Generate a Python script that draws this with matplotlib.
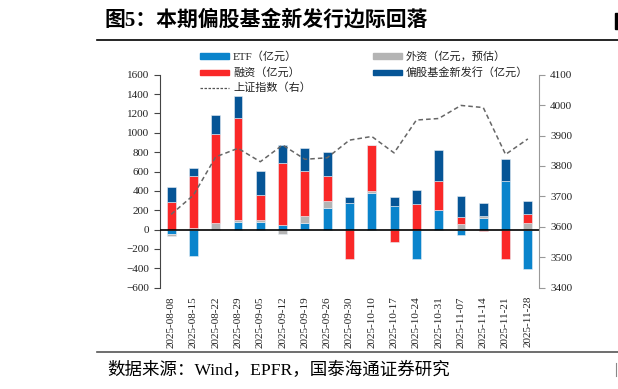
import matplotlib
matplotlib.use("Agg")
import matplotlib.pyplot as plt
import numpy as np
from matplotlib.lines import Line2D

dates = ["2025-08-08", "2025-08-15", "2025-08-22", "2025-08-29", "2025-09-05",
         "2025-09-12", "2025-09-19", "2025-09-26", "2025-09-30", "2025-10-10",
         "2025-10-17", "2025-10-24", "2025-10-31", "2025-11-07", "2025-11-14",
         "2025-11-21", "2025-11-28"]
etf = [-48, -275, 0, 83, 76, 48, 72, 220, 275, 379, 248, -306, 200, -55, 120, 506, -406]
foreign = [-17, 20, 70, 20, 27, -48, 69, 73, 0, 24, 0, 0, 0, 59, 18, 0, 65]
margin = [289, 531, 918, 1054, 255, 637, 465, 265, -303, 468, -127, 268, 303, 68, -10, -300, 100]
new_fund = [148, 89, 193, 220, 244, 186, 237, 247, 59, 7, 93, 138, 316, 217, 134, 220, 128]
sh_index = [3641, 3704, 3830, 3858, 3814, 3869, 3822, 3827, 3885, 3897, 3843,
            3951, 3956, 3999, 3992, 3838, 3889]

labels = ["ETF（亿元）", "外资（亿元，预估）", "融资（亿元）", "偏股基金新发行（亿元）", "上证指数（右）"]
colors = ["#0A84CC", "#B4B4B4", "#FA2828", "#065596"]

plt.rcParams["font.family"] = ["Liberation Serif", "Noto Sans CJK SC", "DejaVu Sans"]
plt.rcParams["axes.unicode_minus"] = True
serifcjk = ["Liberation Serif", "Noto Sans CJK SC", "DejaVu Sans"]

fig = plt.figure(figsize=(6.18, 3.89), dpi=100)
ax = fig.add_axes([160 / 618, 1 - 287.7 / 389, (539 - 160) / 618, (287.7 - 74.7) / 389])
ax2 = ax.twinx()

x = np.arange(len(dates))
series = [etf, foreign, margin, new_fund]
pos_base = np.zeros(len(dates))
neg_base = np.zeros(len(dates))
w = 0.4
for vals, c in zip(series, colors):
    v = np.array(vals, dtype=float)
    bottoms = np.where(v >= 0, pos_base, neg_base)
    ax.bar(x, v, w, bottom=bottoms, color=c, edgecolor="#E8EEF4", linewidth=0.4, zorder=2)
    pos_base = pos_base + np.where(v >= 0, v, 0)
    neg_base = neg_base + np.where(v < 0, v, 0)

ax.axhline(0, color="black", linewidth=1.2, zorder=3)
ax2.plot(x, sh_index, linestyle=(0, (3, 2)), color="#666666", linewidth=1.1, zorder=4)

ax.set_xlim(-0.5, 16.5)
ax.set_ylim(-600, 1600)
ax.set_yticks(np.arange(-600, 1601, 200))
ax2.set_ylim(3400, 4100)
ax2.set_yticks(np.arange(3400, 4101, 100))

for a in (ax, ax2):
    for s in ("top", "bottom"):
        a.spines[s].set_visible(False)
ax.spines["left"].set_color("#444444")
ax.spines["right"].set_visible(False)
ax2.spines["left"].set_visible(False)
ax2.spines["right"].set_color("#999999")

ax.set_xticks(x)
ax.set_xticklabels(dates, rotation=90, fontsize=8)
ax.tick_params(axis="x", length=0, pad=6, labelcolor="#222222")
ax.tick_params(axis="y", length=4, width=0.8, color="#444444", labelsize=8, pad=4, labelcolor="#222222")
ax2.tick_params(axis="y", length=4, width=0.8, color="#999999", labelsize=8, pad=4, labelcolor="#222222")

legend_items = [
    (200, 56, "patch", colors[0], labels[0]),
    (200, 72, "patch", colors[2], labels[2]),
    (200, 88, "line", "#555555", labels[4]),
    (373, 56, "patch", colors[1], labels[1]),
    (373, 72, "patch", colors[3], labels[3]),
]
for px, py, kind, c, txt in legend_items:
    yf = 1 - py / 389
    if kind == "patch":
        fig.add_artist(plt.Rectangle((px / 618, yf - 2.5 / 389), 29 / 618, 5 / 389,
                                     transform=fig.transFigure, color=c))
    else:
        fig.add_artist(Line2D([px / 618, (px + 29) / 618], [yf, yf], transform=fig.transFigure,
                              linestyle=(0, (2, 1.2)), color=c, linewidth=0.9))
    fig.text((px + 33) / 618, yf, txt, fontfamily=serifcjk, fontsize=8, va="center", ha="left",
             color="#222222")

# title, rules, source
fig.text(105 / 618, 1 - 20 / 389, "图5：本期偏股基金新发行边际回落", fontfamily=serifcjk,
         fontsize=15, fontweight="bold", va="center", ha="left")
fig.add_artist(Line2D([97 / 618, 1], [1 - 40 / 389, 1 - 40 / 389], transform=fig.transFigure,
                      color="black", linewidth=1.2))
fig.add_artist(Line2D([97 / 618, 1], [1 - 352 / 389, 1 - 352 / 389], transform=fig.transFigure,
                      color="#555555", linewidth=1.2))
fig.text(107 / 618, 1 - 370 / 389, "数据来源：Wind，EPFR，国泰海通证券研究", fontfamily=serifcjk,
         fontsize=12.6, va="center", ha="left")
# cropped fragments at the right edge of the source image
fig.add_artist(plt.Rectangle((615 / 618, 1 - 29 / 389), 3 / 618, 16 / 389,
                             transform=fig.transFigure, color="black"))
fig.add_artist(Line2D([615.5 / 618, 615.5 / 618], [1 - 363 / 389, 1 - 376 / 389],
                      transform=fig.transFigure, color="#888888", linewidth=0.8))

fig.savefig("out.png", dpi=100)
